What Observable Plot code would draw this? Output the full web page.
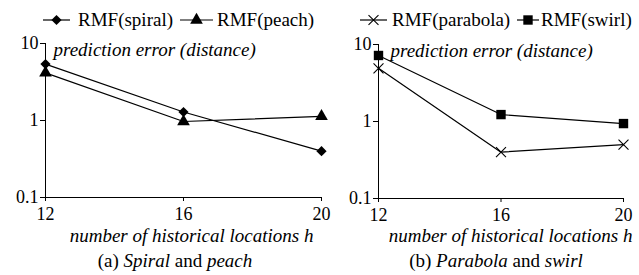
<!DOCTYPE html>
<html>
<head>
<meta charset="utf-8">
<script src="https://cdn.jsdelivr.net/npm/d3@7"></script>
<script src="https://cdn.jsdelivr.net/npm/@observablehq/plot@0.6"></script>
<style>
  html, body { margin: 0; padding: 0; background: #fff; }
  #wrap { position: relative; width: 639px; height: 275px; background: #fff; font-family: "Liberation Serif", "Times New Roman", Times, "DejaVu Serif", "Noto Serif", serif; color: #000; overflow: hidden; }
  #wrap svg text { font-family: "Liberation Serif", "Times New Roman", Times, "DejaVu Serif", "Noto Serif", serif; }
  .abs { position: absolute; }
  .leg { font-size: 19px; line-height: 20px; white-space: nowrap; }
  .cap { font-size: 19px; line-height: 20px; text-align: center; white-space: nowrap; }
  svg.sw { position: absolute; overflow: visible; }
</style>
</head>
<body>
<div id="wrap"></div>
<script>
// ---- data ----
const hValues = [12, 16, 20];
const spiral = [5.4, 1.29, 0.40];
const peach = [4.15, 0.97, 1.13];
const parabola = [4.9, 0.40, 0.50];
const swirl = [7.2, 1.23, 0.94];
const yTicks = [0.1, 1, 10];
const yTickLabels = ["0.1", "1", "10"];
const yLabel = "prediction error (distance)";
const xLabel = "number of historical locations h";

const FONT = "'Liberation Serif', 'Times New Roman', Times, 'DejaVu Serif', serif";
const rows = (name, vals) => hValues.map((h, i) => ({series: name, h, v: vals[i]}));

const wrap = document.getElementById("wrap");

function panel({width, marginLeft, marginRight, marginTop, marginBottom, series, xTitleDx, xTitleDy, yTitleDx}) {
  const marks = [
    Plot.ruleX([hValues[0]], {stroke: "black", strokeWidth: 1}),
    Plot.ruleY([yTicks[0]], {stroke: "black", strokeWidth: 1}),
    Plot.axisY({ticks: yTicks, tickFormat: d => yTickLabels[yTicks.indexOf(d)], tickSize: 5, tickPadding: 2, label: null, fontSize: 18}),
    Plot.axisX({ticks: hValues, tickFormat: d => String(d), tickSize: 4, tickPadding: 6, label: null, fontSize: 18}),
  ];
  for (const s of series) {
    const data = rows(s.name, s.values);
    marks.push(Plot.line(data, {x: "h", y: "v", stroke: "black", strokeWidth: 1.2}));
    marks.push(Plot.dot(data, s.filled
      ? {x: "h", y: "v", symbol: () => s.symbol, r: s.r, fill: "black", stroke: "none"}
      : {x: "h", y: "v", symbol: () => s.symbol, r: s.r, fill: "none", stroke: "black", strokeWidth: 1.1}));
  }
  marks.push(Plot.text([yLabel], {text: d => d, frameAnchor: "top-left", textAnchor: "start", lineAnchor: "middle", dx: yTitleDx, dy: 6, fontStyle: "italic", fontSize: 19}));
  marks.push(Plot.text([xLabel], {text: d => d, frameAnchor: "bottom-right", textAnchor: "end", lineAnchor: "middle", dx: xTitleDx, dy: xTitleDy, fontStyle: "italic", fontSize: 19}));
  return Plot.plot({
    width, height: 230, marginLeft, marginRight, marginTop, marginBottom,
    style: {fontFamily: FONT, fontSize: "18px", background: "transparent", overflow: "visible", color: "black"},
    x: {domain: [hValues[0], hValues[hValues.length - 1]]},
    y: {type: "log", domain: [yTicks[0], yTicks[yTicks.length - 1]]},
    marks
  });
}

const left = panel({
  width: 340, marginLeft: 45, marginRight: 19, marginTop: 43, marginBottom: 33,
  series: [
    {name: "RMF(spiral)", values: spiral, symbol: "diamond2", r: 4.6, filled: true},
    {name: "RMF(peach)", values: peach, symbol: "triangle", r: 4.7, filled: true}
  ],
  xTitleDx: -8, xTitleDy: 38, yTitleDx: 8
});
left.style.position = "absolute"; left.style.left = "0px"; left.style.top = "0px";
wrap.appendChild(left);

const right = panel({
  width: 319, marginLeft: 58, marginRight: 16, marginTop: 44, marginBottom: 32,
  series: [
    {name: "RMF(parabola)", values: parabola, symbol: "times", r: 4.6, filled: false},
    {name: "RMF(swirl)", values: swirl, symbol: "square", r: 5.3, filled: true}
  ],
  xTitleDx: 9, xTitleDy: 37, yTitleDx: 12
});
right.style.position = "absolute"; right.style.left = "320px"; right.style.top = "0px";
wrap.appendChild(right);

// ---- legends ----
function swatch(x, w, sym, r, filled) {
  const ns = "http://www.w3.org/2000/svg";
  const svg = document.createElementNS(ns, "svg");
  svg.setAttribute("class", "sw");
  svg.setAttribute("width", w); svg.setAttribute("height", 20);
  svg.style.left = x + "px"; svg.style.top = "10px";
  const line = document.createElementNS(ns, "line");
  line.setAttribute("x1", 0); line.setAttribute("x2", w); line.setAttribute("y1", 10); line.setAttribute("y2", 10);
  line.setAttribute("stroke", "black"); line.setAttribute("stroke-width", 1.2);
  svg.appendChild(line);
  const p = document.createElementNS(ns, "path");
  p.setAttribute("d", d3.symbol(sym, r * r * Math.PI)());
  p.setAttribute("transform", `translate(${w / 2},10)`);
  if (filled) { p.setAttribute("fill", "black"); }
  else { p.setAttribute("fill", "none"); p.setAttribute("stroke", "black"); p.setAttribute("stroke-width", 1.1); }
  svg.appendChild(p);
  wrap.appendChild(svg);
}
function label(x, text) {
  const d = document.createElement("div");
  d.className = "abs leg"; d.style.left = x + "px"; d.style.top = "10px";
  d.textContent = text; wrap.appendChild(d);
}
swatch(43, 27, d3.symbolDiamond2, 4.6, true); label(78, "RMF(spiral)");
swatch(180, 33, d3.symbolTriangle, 4.7, true); label(217, "RMF(peach)");
swatch(360, 27, d3.symbolTimes, 4.6, false); label(392, "RMF(parabola)");
swatch(517, 22, d3.symbolSquare, 5.3, true); label(541, "RMF(swirl)");

// ---- captions ----
function caption(cx, html) {
  const d = document.createElement("div");
  d.className = "abs cap"; d.style.left = (cx - 150) + "px"; d.style.width = "300px"; d.style.top = "251px";
  d.innerHTML = html; wrap.appendChild(d);
}
caption(175, "(a) <i>Spiral</i> and <i>peach</i>");
caption(496, "(b) <i>Parabola</i> and <i>swirl</i>");
</script>
</body>
</html>
